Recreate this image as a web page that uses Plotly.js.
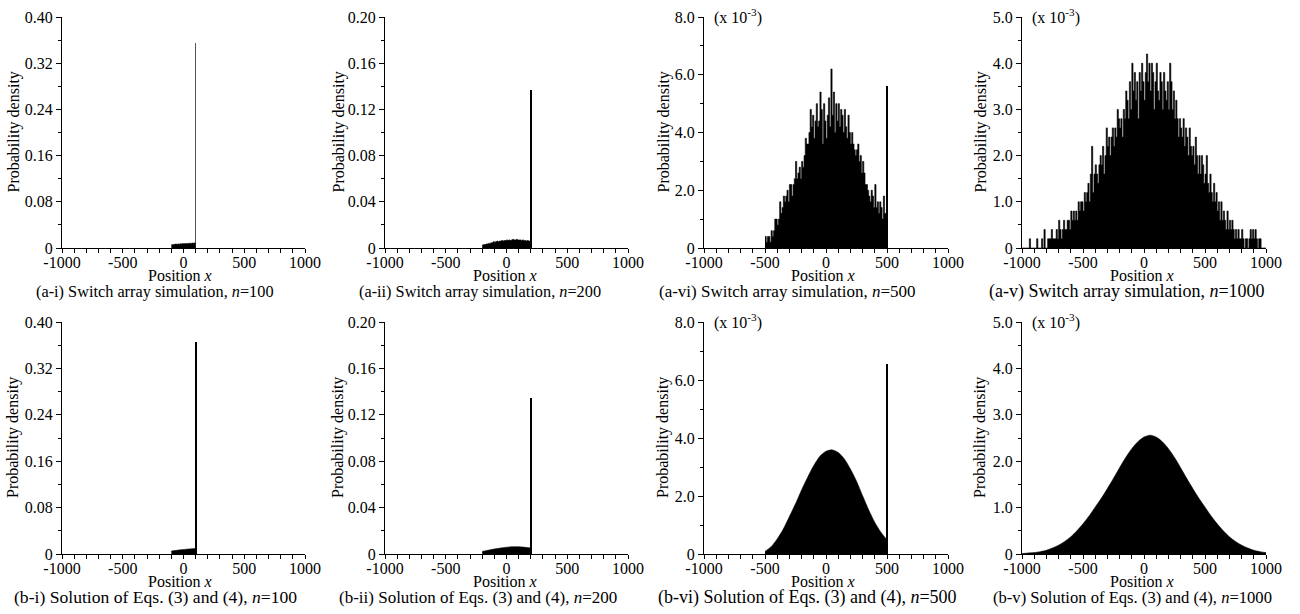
<!DOCTYPE html>
<html><head><meta charset="utf-8">
<script src="https://cdn.plot.ly/plotly-3.0.1.min.js"></script>
<style>html,body{margin:0;padding:0;background:#fff}#chart{width:1300px;height:614px}</style>
</head><body><div id="chart"></div>
<script>
// ---------------- DATA ----------------
// (a-i) switch array simulation, n=100 : histogram, bins of 10 starting at -100 (probability density)
const a1Start = -100, a1Bin = 10;
const a1Values = [0.0058,0.0062,0.0060,0.0068,0.0064,0.0070,0.0066,0.0072,0.0070,0.0076,
                  0.0072,0.0078,0.0074,0.0080,0.0078,0.0084,0.0080,0.0086,0.0082,0.0088];
const a1Spike = {x: 100, y: 0.355};

// (a-ii) n=200
const a2Start = -200, a2Bin = 10;
const a2Values = [0.0025,0.0030,0.0030,0.0035,0.0035,0.0040,0.0040,0.0045,0.0045,0.0055,
                  0.0050,0.0055,0.0060,0.0055,0.0060,0.0060,0.0065,0.0060,0.0065,0.0065,
                  0.0070,0.0065,0.0070,0.0065,0.0070,0.0075,0.0070,0.0070,0.0075,0.0070,
                  0.0070,0.0070,0.0065,0.0070,0.0065,0.0065,0.0060,0.0065,0.0060,0.0060];
const a2Spike = {x: 200, y: 0.137};

// (a-vi) n=500 : values in units of 10^-3
const a3Start = -500, a3Bin = 10;
const a3Values = [0.4,0.2,0.4,0.4,0.2,0.6,0.4,0.6,1.0,1.0,
                  0.8,1.0,1.6,1.2,1.4,1.8,1.6,1.8,2.0,1.6,
                  2.2,2.2,1.8,2.2,2.4,3.0,2.4,2.6,2.8,2.4,
                  3.0,2.8,3.2,3.8,3.6,3.6,4.0,4.8,4.2,4.6,
                  3.8,4.4,5.0,4.2,4.4,5.4,4.8,3.6,5.0,4.4,
                  3.8,4.6,5.2,4.2,6.2,4.6,5.4,4.0,5.0,4.4,
                  5.0,4.2,4.8,4.6,4.0,4.8,4.2,3.8,4.6,4.0,
                  3.6,4.0,3.6,3.4,3.2,3.4,3.6,3.0,3.2,2.6,
                  3.0,2.6,2.2,2.2,2.0,1.8,1.6,2.0,1.8,1.4,
                  2.2,1.4,1.6,1.2,1.6,1.4,1.0,1.8,1.2,1.2];
const a3Spike = {x: 500, y: 5.6};

// (a-v) n=1000 : values in units of 10^-3
const a4Start = -1000, a4Bin = 10;
const a4Values = [0,0,0,0,0,0,0.2,0,0,0,
                  0,0,0.2,0,0,0,0.2,0,0.4,0,
                  0,0.2,0.2,0.2,0.4,0.2,0.2,0.2,0.4,0.2,
                  0.6,0.4,0.2,0.4,0.6,0.4,0.4,0.6,0.6,0.4,
                  0.8,0.6,0.8,0.6,0.8,0.6,1.0,0.8,1.0,1.0,
                  0.8,1.2,1.0,1.2,1.4,1.0,1.6,2.2,1.2,1.6,
                  1.8,1.6,1.4,1.8,2.0,1.8,2.2,1.6,2.0,2.6,
                  2.2,2.4,2.0,2.4,2.6,2.2,2.6,2.4,3.0,2.8,
                  2.6,2.8,2.4,3.0,2.8,3.4,3.2,2.8,3.6,3.0,
                  4.0,3.4,3.8,3.2,3.6,2.8,3.8,3.4,4.0,3.6,
                  3.2,3.8,4.2,3.6,4.0,3.4,4.0,3.8,3.0,3.6,
                  4.0,3.4,3.2,3.8,3.6,3.0,3.8,3.4,3.2,3.6,
                  3.0,4.0,3.6,3.0,3.4,2.8,3.2,2.8,2.4,2.8,
                  2.6,2.4,2.8,2.2,2.6,2.4,2.0,2.6,2.2,2.0,
                  2.2,1.8,2.4,2.0,1.6,2.0,1.6,2.0,1.8,1.4,
                  1.6,2.0,1.4,1.2,1.6,1.2,1.0,1.4,1.0,1.2,
                  0.8,1.0,0.6,1.0,0.6,0.8,0.6,0.4,0.8,0.4,
                  0.6,0.4,0.6,0.4,0.2,0.4,0.2,0.4,0.2,0.2,
                  0.4,0.2,0,0.2,0.2,0,0.2,0.4,0.2,0.4,
                  0.2,0.4,0.2,0,0.2,0.2,0,0,0,0];

// (b-i) solution, n=100
const b1X = [-100,-50,0,50,100];
const b1Y = [0.0050,0.0065,0.0077,0.0087,0.0093];
const b1Spike = {x: 100, y: 0.365};

// (b-ii) solution, n=200
const b2X = [-200,-150,-100,-50,0,50,100,150,200];
const b2Y = [0.0022,0.0033,0.0043,0.0051,0.0058,0.0062,0.0062,0.0058,0.0052];
const b2Spike = {x: 200, y: 0.1344};

// (b-vi) solution, n=500 (units of 10^-3)
const b3X = [-500,-450,-400,-350,-300,-250,-200,-150,-100,-50,0,50,100,150,200,250,300,350,400,450,500];
const b3Y = [0.09,0.25,0.52,0.86,1.29,1.73,2.21,2.65,3.05,3.37,3.54,3.59,3.50,3.28,2.93,2.51,2.01,1.52,1.09,0.75,0.48];
const b3Spike = {x: 500, y: 6.56};

// (b-v) solution, n=1000 (units of 10^-3)
const b4X = [-1000,-950,-900,-850,-800,-750,-700,-650,-600,-550,-500,-450,-400,-350,-300,-250,-200,-150,-100,-50,
             0,50,100,150,200,250,300,350,400,450,500,550,600,650,700,750,800,850,900,950,1000];
const b4Y = [0.01,0.02,0.03,0.05,0.08,0.13,0.19,0.27,0.37,0.50,0.65,0.82,1.01,1.20,1.41,1.63,1.86,2.08,2.27,2.42,
             2.52,2.56,2.52,2.42,2.27,2.08,1.86,1.63,1.41,1.20,1.01,0.82,0.65,0.50,0.37,0.27,0.19,0.13,0.08,0.05,0.03];

// ticks
const xTickVals = [-1000,-500,0,500,1000];
const xTickText = ['-1000','-500','0','500','1000'];
const xMinorVals = [-900,-800,-700,-600,-400,-300,-200,-100,100,200,300,400,600,700,800,900];
const yTicks = [
  {range:[0,0.40], vals:[0,0.08,0.16,0.24,0.32,0.40], text:['0','0.08','0.16','0.24','0.32','0.40'], minor:[0.04,0.12,0.20,0.28,0.36]},
  {range:[0,0.20], vals:[0,0.04,0.08,0.12,0.16,0.20], text:['0','0.04','0.08','0.12','0.16','0.20'], minor:[0.02,0.06,0.10,0.14,0.18]},
  {range:[0,8], vals:[0,2,4,6,8], text:['0','2.0','4.0','6.0','8.0'], minor:[1,3,5,7]},
  {range:[0,5], vals:[0,1,2,3,4,5], text:['0','1.0','2.0','3.0','4.0','5.0'], minor:[0.5,1.5,2.5,3.5,4.5]}
];
const captions = [
  '(a-i) Switch array simulation, <i>n</i>=100',
  '(a-ii) Switch array simulation, <i>n</i>=200',
  '(a-vi) Switch array simulation, <i>n</i>=500',
  '(a-v) Switch array simulation, <i>n</i>=1000',
  '(b-i) Solution of Eqs. (3) and (4), <i>n</i>=100',
  '(b-ii) Solution of Eqs. (3) and (4), <i>n</i>=200',
  '(b-vi) Solution of Eqs. (3) and (4), <i>n</i>=500',
  '(b-v) Solution of Eqs. (3) and (4), <i>n</i>=1000'
];

// ---------------- LAYOUT / DRAW ----------------
const W = 1300, H = 614;
const FONT = 'Liberation Serif, Times New Roman, Times, serif';
const cols = [[62,305],[385,628],[704,948],[1022,1266]];
const rows = [[17,248],[322,554]];
const captionX = [[155,480,787,1127],[155,478,808,1132]];
const captionSize = [[16.3,16.3,17,18],[17.6,17,18,16.6]];
const posX = [180,505,823,1142];
const ytitleX = [13,338,663,980];
const rowTextY = [{pos:275, cap:291}, {pos:581, cap:597}];

function axNames(k){ const i = k+1; return {xa: i===1?'x':'x'+i, ya: i===1?'y':'y'+i, xl: i===1?'xaxis':'xaxis'+i, yl: i===1?'yaxis':'yaxis'+i}; }

function stepTrace(start, bin, vals, k){
  const n = axNames(k); const x = [], y = [];
  vals.forEach((v,i)=>{ x.push(start + i*bin); y.push(v); });
  x.push(start + vals.length*bin); y.push(vals[vals.length-1]);
  return {type:'scatter', mode:'lines', x, y, xaxis:n.xa, yaxis:n.ya,
    line:{shape:'hv', width:0.6, color:'#000'}, fill:'tozeroy', fillcolor:'#000', hoverinfo:'skip'};
}
function smoothTrace(x, y, k){
  const n = axNames(k);
  return {type:'scatter', mode:'lines', x, y, xaxis:n.xa, yaxis:n.ya,
    line:{shape:'spline', smoothing:0.8, width:0.6, color:'#000'}, fill:'tozeroy', fillcolor:'#000', hoverinfo:'skip'};
}
function spikeTrace(s, k, w, color){
  const n = axNames(k);
  return {type:'bar', x:[s.x], y:[s.y], width:[w], xaxis:n.xa, yaxis:n.ya,
    marker:{color:color, line:{width:0}}, hoverinfo:'skip'};
}

const data = [
  stepTrace(a1Start, a1Bin, a1Values, 0), spikeTrace(a1Spike, 0, 11, '#555'),
  stepTrace(a2Start, a2Bin, a2Values, 1), spikeTrace(a2Spike, 1, 12, '#000'),
  stepTrace(a3Start, a3Bin, a3Values, 2), spikeTrace(a3Spike, 2, 12, '#000'),
  stepTrace(a4Start, a4Bin, a4Values, 3),
  smoothTrace(b1X, b1Y, 4), spikeTrace(b1Spike, 4, 16, '#000'),
  smoothTrace(b2X, b2Y, 5), spikeTrace(b2Spike, 5, 12, '#000'),
  smoothTrace(b3X, b3Y, 6), spikeTrace(b3Spike, 6, 12, '#000'),
  smoothTrace(b4X, b4Y, 7)
];

const tickFont = {family:FONT, size:16, color:'#000'};
const layout = {width:W, height:H, margin:{l:0,r:0,t:0,b:0}, paper_bgcolor:'#fff', plot_bgcolor:'#fff',
  showlegend:false, bargap:0, font:{family:FONT, size:16, color:'#000'}, annotations:[]};

function ann(text, px, py, extra, size){
  return Object.assign({text, x:px/W, y:1-py/H, xref:'paper', yref:'paper', showarrow:false,
    font:{family:FONT, size:size||16, color:'#000'}, xanchor:'center', yanchor:'middle'}, extra||{});
}

for (let k=0;k<8;k++){
  const r = Math.floor(k/4), c = k%4, n = axNames(k), yt = yTicks[c];
  layout[n.xl] = {domain:[cols[c][0]/W, cols[c][1]/W], anchor:n.ya, range:[-1000,1000],
    tickmode:'array', tickvals:xTickVals, ticktext:xTickText, ticks:'outside', ticklen:4, tickwidth:1, tickcolor:'#000',
    ticklabelstandoff:-4,
    showline:true, linecolor:'#000', linewidth:1, showgrid:false, zeroline:false, fixedrange:true, automargin:false,
    tickfont:tickFont,
    minor:{tickmode:'array', tickvals:xMinorVals, ticks:'outside', ticklen:4, tickwidth:1, tickcolor:'#000', showgrid:false}};
  layout[n.yl] = {domain:[1-rows[r][1]/H, 1-rows[r][0]/H], anchor:n.xa, range:yt.range,
    tickmode:'array', tickvals:yt.vals, ticktext:yt.text, ticks:'outside', ticklen:5, tickwidth:1, tickcolor:'#000',
    showline:true, linecolor:'#000', linewidth:1, showgrid:false, zeroline:false, fixedrange:true, automargin:false,
    tickfont:tickFont,
    minor:{tickmode:'array', tickvals:yt.minor, ticks:'outside', ticklen:3, tickwidth:1, tickcolor:'#000', showgrid:false}};
  const rowMid = (rows[r][0]+rows[r][1])/2;
  layout.annotations.push(ann('Probability density', ytitleX[c], rowMid, {textangle:-90}));
  layout.annotations.push(ann('Position <i>x</i>', posX[c], rowTextY[r].pos));
  layout.annotations.push(ann(captions[k], captionX[r][c], rowTextY[r].cap, null, captionSize[r][c]));
  if (c >= 2) {
    layout.annotations.push(ann('(x 10<sup>-3</sup>)', cols[c][0]+8, rows[r][0]-1, {xanchor:'left'}));
  }
}

Plotly.newPlot('chart', data, layout, {staticPlot:true, displayModeBar:false});
</script>
</body></html>
